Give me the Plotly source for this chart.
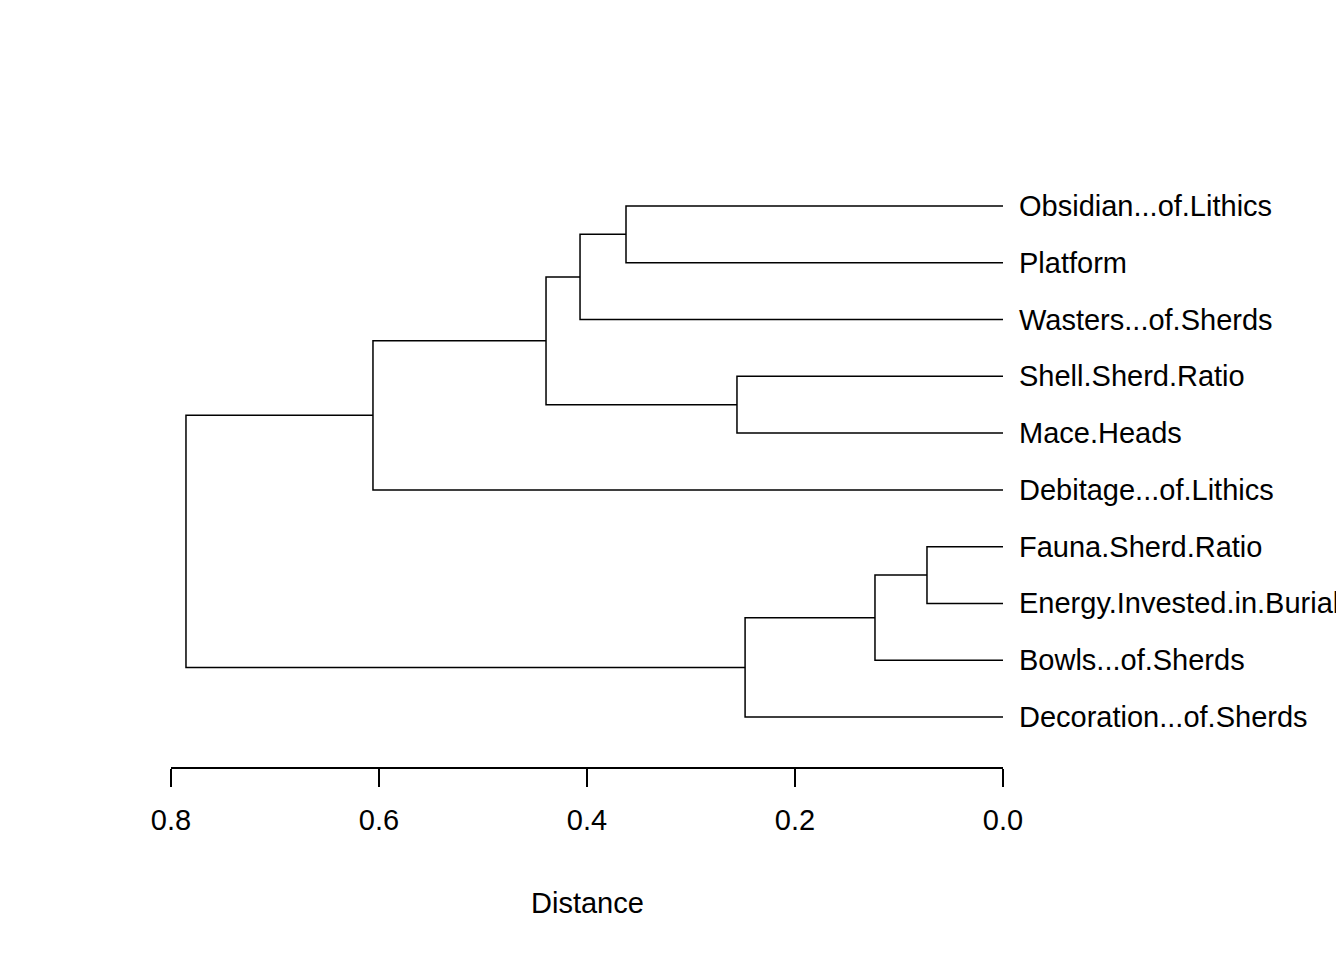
import plotly.graph_objects as go

labels = ["Obsidian...of.Lithics", "Platform", "Wasters...of.Sherds", "Shell.Sherd.Ratio",
          "Mace.Heads", "Debitage...of.Lithics", "Fauna.Sherd.Ratio",
          "Energy.Invested.in.Burials", "Bowls...of.Sherds", "Decoration...of.Sherds"]

# merges: (left node, right node, height); leaves 0..9, new nodes from 10 upward
merges = [
    (0, 1, 0.3625),
    (10, 2, 0.4067),
    (3, 4, 0.2558),
    (11, 12, 0.4394),
    (13, 5, 0.6058),
    (6, 7, 0.0731),
    (15, 8, 0.1231),
    (16, 9, 0.2480),
    (14, 17, 0.7856),
]

pos = {i: (0.0, i + 1) for i in range(len(labels))}
xs, ys = [], []
for k, (a, b, h) in enumerate(merges):
    xa, ya = pos[a]
    xb, yb = pos[b]
    xs += [xa, h, h, xb, None]
    ys += [ya, ya, yb, yb, None]
    pos[len(labels) + k] = (h, (ya + yb) / 2)

fig = go.Figure(go.Scatter(x=xs, y=ys, mode="lines", line=dict(color="black", width=1.5),
                           hoverinfo="skip", showlegend=False))

for i, lab in enumerate(labels):
    fig.add_annotation(x=0, y=i + 1, text=lab, xanchor="left", xshift=14, showarrow=False,
                       font=dict(size=29, color="black"))

fig.add_annotation(x=0.4, xref="x", y=-0.22, yref="paper", text="Distance", showarrow=False,
                   yanchor="middle", font=dict(size=29, color="black"))

ppu = (718 - 206) / 9
fig.update_layout(
    width=1344, height=960, margin=dict(l=163, r=349, t=142, b=201),
    plot_bgcolor="white", paper_bgcolor="white",
    font=dict(family="Liberation Sans, Arial", size=29, color="black"),
    xaxis=dict(range=[0.8, 0.0], tickvals=[0.8, 0.6, 0.4, 0.2, 0.0],
               ticktext=["0.8", "0.6", "0.4", "0.2", "0.0"], showgrid=False, zeroline=False,
               showline=True, linecolor="black", linewidth=1.5, ticks="outside", ticklen=18,
               tickwidth=1.5, tickcolor="black", tickfont=dict(size=29), ticklabelstandoff=8),
    yaxis=dict(range=[10 + 50 / ppu, 1 - 56 / ppu], visible=False),
)

fig.write_html("out.html")
